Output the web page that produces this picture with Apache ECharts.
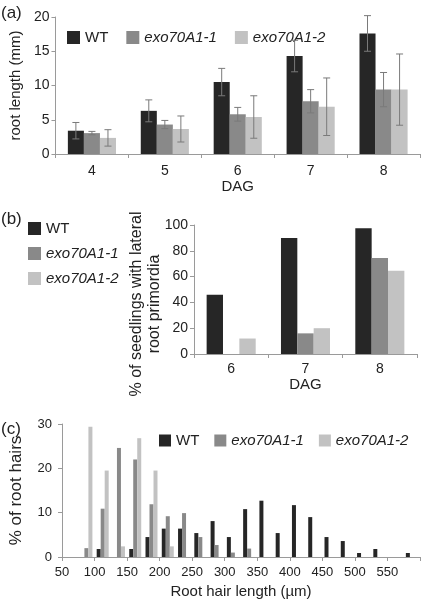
<!DOCTYPE html>
<html>
<head>
<meta charset="utf-8">
<script src="https://cdn.jsdelivr.net/npm/echarts@6/dist/echarts.min.js"></script>
<style>
html,body{margin:0;padding:0;background:#fff;}
#chart{width:426px;height:606px;}
</style>
</head>
<body>
<div id="chart"></div>
<script>
// ---- Data ----
const seriesNames = ['WT', 'exo70A1-1', 'exo70A1-2'];

// Panel (a): root length (mm) by DAG
const daysA = ['4', '5', '6', '7', '8'];
const wtA = [3.4, 6.3, 10.5, 14.3, 17.6];
const wtAErr = [1.2, 1.6, 2.0, 2.3, 2.6];
const exo1A = [3.05, 4.3, 5.8, 7.7, 9.4];
const exo1AErr = [0.25, 0.6, 1.0, 1.7, 2.5];
const exo2A = [2.35, 3.65, 5.4, 6.9, 9.4];
const exo2AErr = [1.2, 1.9, 3.1, 4.2, 5.2];

// Panel (b): % of seedlings with lateral root primordia
const daysB = ['6', '7', '8'];
const wtB = [46, 90, 97.5];
const exo1B = [0, 16, 74.5];
const exo2B = [12, 20, 64.5];

// Panel (c): % of root hairs per 25 µm length bin (bin start values)
const binStartC = [50, 75, 100, 125, 150, 175, 200, 225, 250, 275, 300, 325, 350, 375, 400, 425, 450, 475, 500, 525, 550, 575];
const wtC   = [0, 0, 1.8, 0, 1.8, 4.5, 6.4, 6.4, 5.4, 8.1, 4.5, 10.8, 12.7, 5.4, 11.7, 9.0, 4.5, 3.6, 0.9, 1.8, 0, 0.9];
const exo1C = [0, 2.0, 10.9, 24.6, 22.0, 11.9, 9.2, 9.9, 4.5, 2.7, 1.0, 1.9, 0, 0, 0, 0, 0, 0, 0, 0, 0, 0];
const exo2C = [0, 29.4, 19.5, 2.4, 26.8, 19.5, 2.4, 0, 0, 0, 0, 0, 0, 0, 0, 0, 0, 0, 0, 0, 0, 0];
const xTicksC = [50, 100, 150, 200, 250, 300, 350, 400, 450, 500, 550];

// ---- Styling ----
const colors = ['#262626', '#898989', '#c2c2c2'];
const FONT = '"Liberation Sans", Arial, Helvetica, sans-serif';
const axisColor = '#9a9a9a';
const textColor = '#222';
const catGap = '34%';

function legendFmt(name) { return name === 'WT' ? name : '{i|' + name + '}'; }
const legendText = (size) => ({
  fontFamily: FONT, fontSize: size, color: textColor,
  rich: { i: { fontFamily: FONT, fontSize: size, fontStyle: 'italic', color: textColor } }
});

// error bar data: [catIndex, value, err, seriesIdx]
const errData = [];
[[wtA, wtAErr], [exo1A, exo1AErr], [exo2A, exo2AErr]].forEach(function (pair, s) {
  pair[0].forEach(function (v, i) { errData.push([i, v, pair[1][i], s]); });
});

const chart = echarts.init(document.getElementById('chart'), null, { renderer: 'canvas' });

const catAxis = (gridIndex, data, margin, labelSize, name, nameGap, showLabel) => ({
  type: 'category', gridIndex: gridIndex, data: data,
  axisLine: { lineStyle: { color: axisColor, width: 1 } },
  axisTick: { show: true, length: 4, lineStyle: { color: axisColor } },
  axisLabel: { show: showLabel, margin: margin, fontFamily: FONT, fontSize: labelSize, color: textColor },
  name: name, nameLocation: 'middle', nameGap: nameGap,
  nameTextStyle: { fontFamily: FONT, fontSize: 15, color: textColor }
});
const valAxisY = (gridIndex, max, interval, margin, labelSize, name, nameGap, nameSize) => ({
  type: 'value', gridIndex: gridIndex, min: 0, max: max, interval: interval,
  axisLine: { show: true, lineStyle: { color: axisColor, width: 1 } },
  axisTick: { show: true, length: 4, lineStyle: { color: axisColor } },
  splitLine: { show: false },
  axisLabel: { margin: margin, fontFamily: FONT, fontSize: labelSize, color: textColor },
  name: name, nameLocation: 'middle', nameGap: nameGap,
  nameTextStyle: { fontFamily: FONT, fontSize: nameSize, color: textColor }
});

const option = {
  animation: false,
  backgroundColor: '#fff',
  color: colors,
  grid: [
    { left: 50, top: 17, width: 370, height: 137 },
    { left: 194, top: 225, width: 223, height: 129 },
    { left: 61, top: 424, width: 359, height: 133 }
  ],
  xAxis: [
    catAxis(0, daysA, 10, 14, 'DAG', 21, true),
    catAxis(1, daysB, 8, 14, 'DAG', 22, true),
    catAxis(2, binStartC.map(String), 8, 13, '', 20, false),
    {
      type: 'value', gridIndex: 2, min: 50, max: 600, interval: 50, position: 'bottom',
      axisLine: { show: false }, axisTick: { show: false }, splitLine: { show: false },
      axisLabel: {
        margin: 9, fontFamily: FONT, fontSize: 13, color: textColor, showMaxLabel: false,
        formatter: function (v) { return xTicksC.indexOf(v) >= 0 ? String(v) : ''; }
      },
      name: 'Root hair length (µm)', nameLocation: 'middle', nameGap: 27,
      nameTextStyle: { fontFamily: FONT, fontSize: 15, color: textColor }
    }
  ],
  yAxis: [
    valAxisY(0, 20, 5, 6, 14, 'root length (mm)', 29, 15),
    valAxisY(1, 100, 20, 6, 14, '', 30, 15),
    valAxisY(2, 30, 10, 10, 13, '% of root hairs', 37, 17)
  ],
  legend: [
    {
      data: seriesNames, left: 62, top: 25, orient: 'horizontal',
      itemWidth: 13, itemHeight: 13, itemGap: 18, icon: 'rect',
      formatter: legendFmt, textStyle: legendText(15), selectedMode: false
    },
    {
      data: seriesNames, left: 23, top: 216, orient: 'vertical',
      itemWidth: 13, itemHeight: 13, itemGap: 10, icon: 'rect',
      formatter: legendFmt, textStyle: legendText(15), selectedMode: false
    },
    {
      data: seriesNames, left: 154, top: 428, orient: 'horizontal',
      itemWidth: 12, itemHeight: 12, itemGap: 15, icon: 'rect',
      formatter: legendFmt, textStyle: legendText(15), selectedMode: false
    }
  ],
  graphic: [
    { type: 'text', left: 1, top: 5, style: { text: '(a)', font: '17px ' + FONT, fill: textColor } },
    { type: 'text', left: 1, top: 211, style: { text: '(b)', font: '17px ' + FONT, fill: textColor } },
    { type: 'text', left: 1, top: 421, style: { text: '(c)', font: '17px ' + FONT, fill: textColor } },
    {
      type: 'text', x: 146, y: 304, rotation: Math.PI / 2,
      style: {
        text: '% of seedlings with lateral\nroot primordia', font: '16px ' + FONT, fill: textColor,
        align: 'center', verticalAlign: 'middle', lineHeight: 18
      }
    }
  ],
  series: [
    // Panel (a)
    { name: 'WT', type: 'bar', xAxisIndex: 0, yAxisIndex: 0, data: wtA, barGap: '0%', barCategoryGap: catGap },
    { name: 'exo70A1-1', type: 'bar', xAxisIndex: 0, yAxisIndex: 0, data: exo1A, barGap: '0%', barCategoryGap: catGap },
    { name: 'exo70A1-2', type: 'bar', xAxisIndex: 0, yAxisIndex: 0, data: exo2A, barGap: '0%', barCategoryGap: catGap },
    {
      name: 'errA', type: 'custom', xAxisIndex: 0, yAxisIndex: 0, z: 5,
      data: errData, encode: { x: 0, y: 1 },
      renderItem: function (params, api) {
        const ci = api.value(0), v = api.value(1), e = api.value(2), s = api.value(3);
        const band = api.size([1, 0])[0];
        const bw = band * (1 - 0.34) / 3;
        const cx = api.coord([ci, v])[0] + (s - 1) * bw;
        const yTop = api.coord([ci, v + e])[1];
        const yBot = api.coord([ci, Math.max(0, v - e)])[1];
        const cap = 3.5;
        const st = { stroke: '#7a7a7a', lineWidth: 1 };
        return {
          type: 'group', children: [
            { type: 'line', shape: { x1: cx, y1: yTop, x2: cx, y2: yBot }, style: st },
            { type: 'line', shape: { x1: cx - cap, y1: yTop, x2: cx + cap, y2: yTop }, style: st },
            { type: 'line', shape: { x1: cx - cap, y1: yBot, x2: cx + cap, y2: yBot }, style: st }
          ]
        };
      }
    },
    // Panel (b)
    { name: 'WT', type: 'bar', xAxisIndex: 1, yAxisIndex: 1, data: wtB, barGap: '0%', barCategoryGap: catGap },
    { name: 'exo70A1-1', type: 'bar', xAxisIndex: 1, yAxisIndex: 1, data: exo1B, barGap: '0%', barCategoryGap: catGap },
    { name: 'exo70A1-2', type: 'bar', xAxisIndex: 1, yAxisIndex: 1, data: exo2B, barGap: '0%', barCategoryGap: catGap },
    // Panel (c)
    { name: 'WT', type: 'bar', xAxisIndex: 2, yAxisIndex: 2, data: wtC, barWidth: 4, barGap: '0%' },
    { name: 'exo70A1-1', type: 'bar', xAxisIndex: 2, yAxisIndex: 2, data: exo1C, barWidth: 4, barGap: '0%' },
    { name: 'exo70A1-2', type: 'bar', xAxisIndex: 2, yAxisIndex: 2, data: exo2C, barWidth: 4, barGap: '0%' }
  ]
};
chart.setOption(option);
</script>
</body>
</html>
